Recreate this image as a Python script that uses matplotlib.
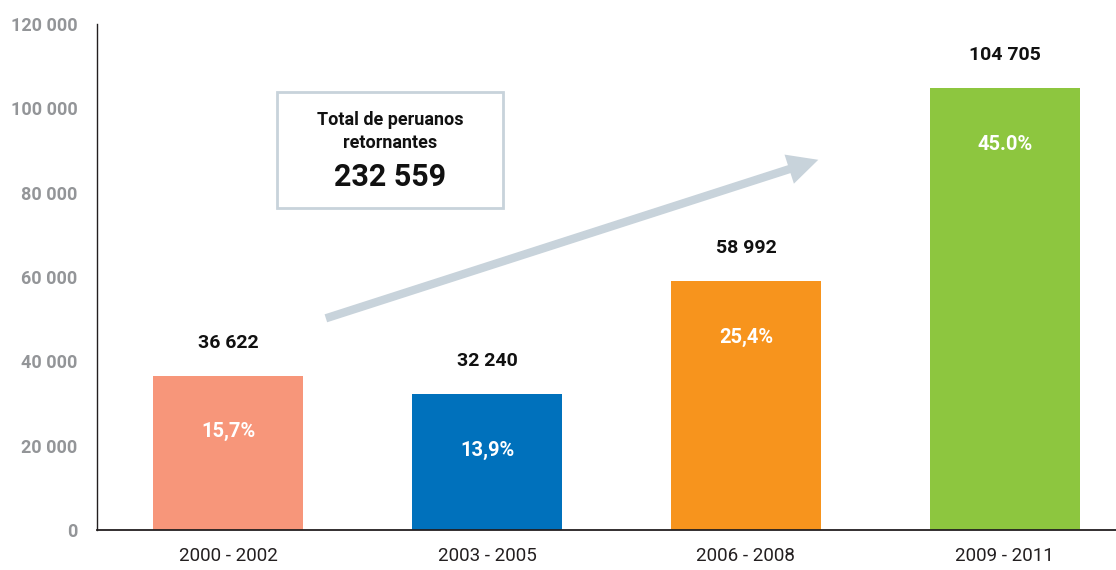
import matplotlib.pyplot as plt
from matplotlib.patches import FancyBboxPatch

plt.rcParams['font.family'] = ['Roboto', 'DejaVu Sans']

# Data
periods = ['2000 - 2002', '2003 - 2005', '2006 - 2008', '2009 - 2011']
returnees = [36622, 32240, 58992, 104705]
shares = ['15,7%', '13,9%', '25,4%', '45.0%']
colors = ['#f7967a', '#0071bc', '#f7941d', '#8dc63f']
yticks = [0, 20000, 40000, 60000, 80000, 100000, 120000]

def fmt(v):
    return f'{v:,}'.replace(',', ' ')

fig = plt.figure(figsize=(11.16, 5.70), dpi=100)
ax = fig.add_axes([97 / 1116, 40 / 570, 1 - 97 / 1116, 506 / 570])

x = range(len(periods))
ax.bar(x, returnees, width=0.58, color=colors)

ax.set_xlim(-0.507, 3.43)
ax.set_ylim(0, 120000)
ax.set_yticks(yticks)
ax.set_yticklabels([fmt(v) for v in yticks], color='#939598', fontweight='bold', fontsize=13)
ax.set_xticks(list(x))
ax.set_xticklabels(periods, fontsize=13.5, color='#231f20')
ax.tick_params(length=0)
ax.tick_params(axis='y', pad=14)
ax.tick_params(axis='x', pad=12)

for s in ['top', 'right']:
    ax.spines[s].set_visible(False)
ax.spines['left'].set_color('#231f20')
ax.spines['left'].set_linewidth(1.0)
ax.spines['bottom'].set_color('#231f20')
ax.spines['bottom'].set_linewidth(1.3)

# value labels above bars, shares inside
for i, v in enumerate(returnees):
    ax.annotate(fmt(v), (i, v), xytext=(0, 33), textcoords='offset pixels',
                ha='center', va='center', fontsize=14, fontweight='bold', color='#111111')
    ax.annotate(shares[i], (i, v), xytext=(0, -56), textcoords='offset pixels',
                ha='center', va='center', fontsize=14.5, fontweight='bold', color='white')

# trend arrow
ax.annotate('', xy=(2.29, 88000), xytext=(0.367, 50000),
            arrowprops=dict(arrowstyle='simple,head_length=1.1,head_width=1.1,tail_width=0.3',
                            color='#c8d3db', lw=0, mutation_scale=20))

# total box
box = FancyBboxPatch((277 / 1116, 1 - 208 / 570), 226 / 1116, 116 / 570,
                     boxstyle='square,pad=0', transform=fig.transFigure,
                     facecolor='white', edgecolor='#c8d3db', linewidth=2)
fig.patches.append(box)
fig.text(390 / 1116, 1 - 120 / 570, 'Total de peruanos', ha='center', va='center',
         fontsize=13, fontweight='bold', color='#111111')
fig.text(390 / 1116, 1 - 143 / 570, 'retornantes', ha='center', va='center',
         fontsize=13, fontweight='bold', color='#111111')
fig.text(390 / 1116, 1 - 177 / 570, fmt(sum(returnees)), ha='center', va='center',
         fontsize=22, fontweight='bold', color='#111111')

fig.savefig('out.png', dpi=100)
